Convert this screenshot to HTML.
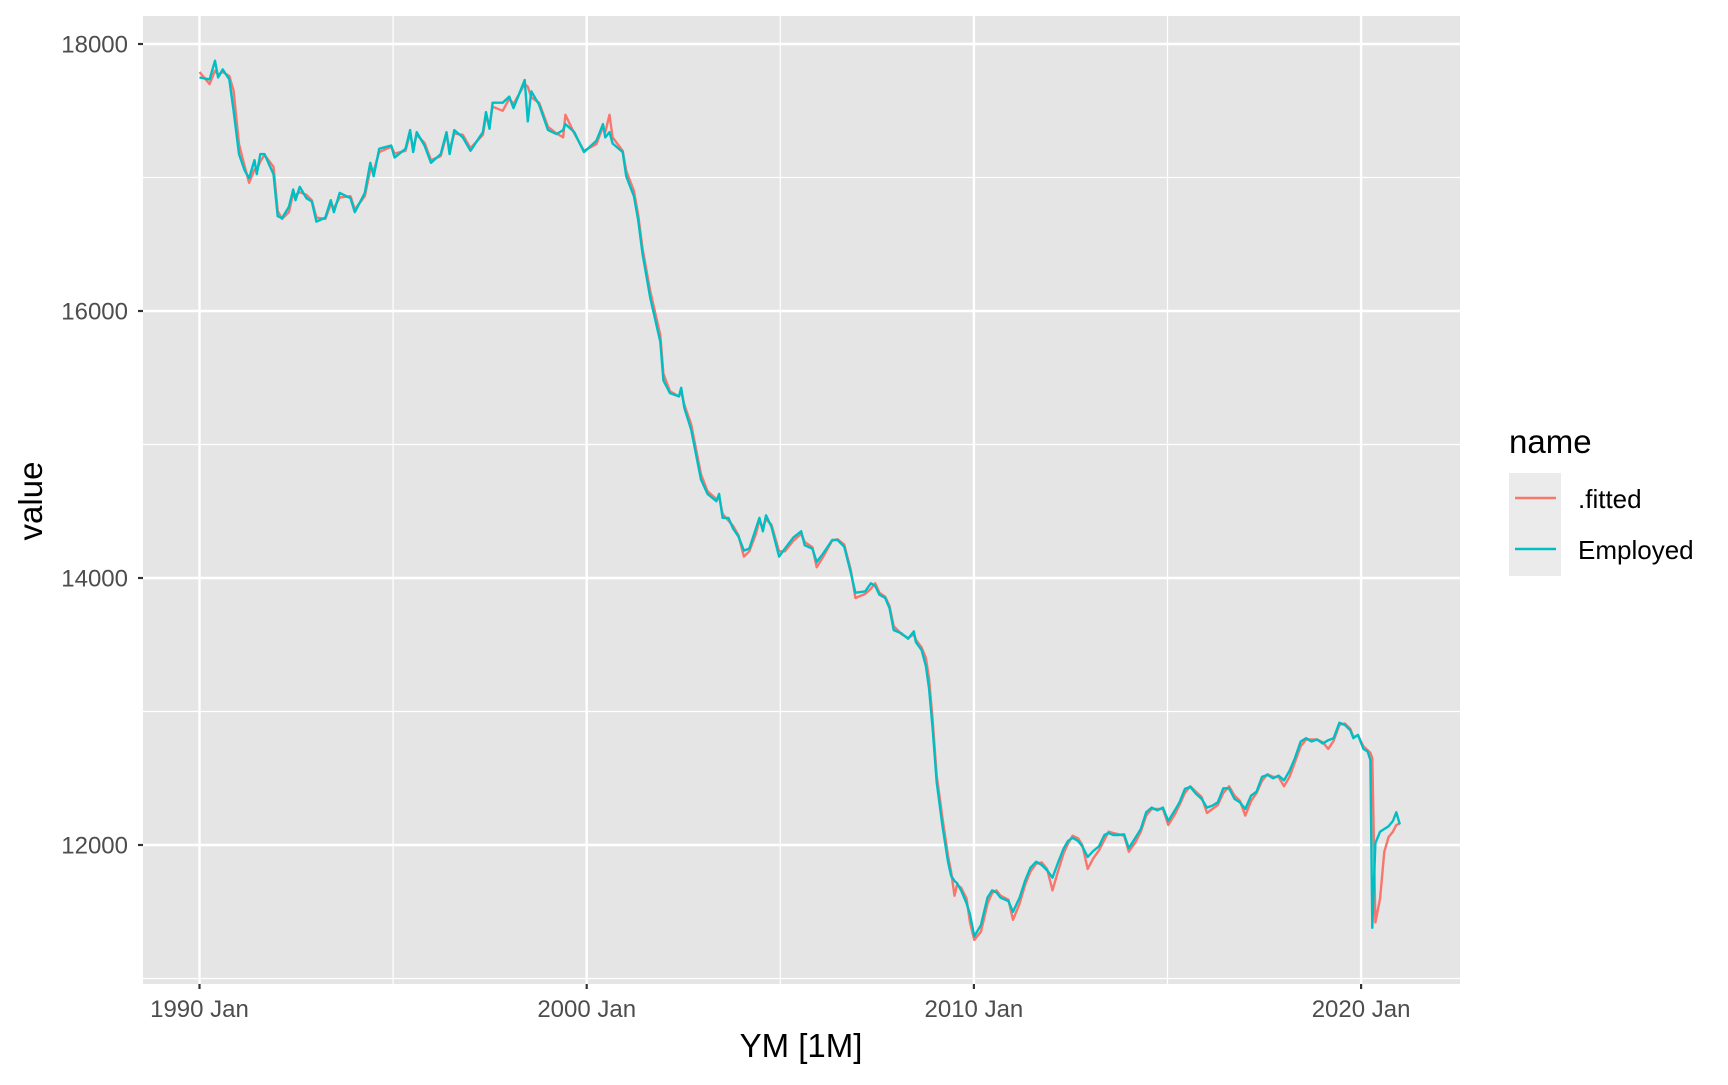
<!DOCTYPE html>
<html><head><meta charset="utf-8"><style>
html,body{margin:0;padding:0;background:#fff;}
svg text{font-family:"Liberation Sans",Arial,sans-serif;}
</style></head><body>
<svg id="chart" width="1728" height="1080" viewBox="0 0 1728 1080" xmlns="http://www.w3.org/2000/svg">
<rect x="0" y="0" width="1728" height="1080" fill="#fff"/>
<rect x="143" y="16" width="1317" height="968" fill="#E5E5E5"/>
<g id="grid"></g>
<g id="series"></g>
<g id="axes"></g>
<text x="0" y="0" transform="translate(42,501) rotate(-90)" text-anchor="middle" font-size="33" fill="#000">value</text>
<text x="801" y="1057" text-anchor="middle" font-size="33" fill="#000">YM [1M]</text>
<g>
<text x="1509" y="453" font-size="33" fill="#000">name</text>
<rect x="1509" y="473" width="52" height="103" fill="#EBEBEB"/>
<g>
<line x1="1515" y1="498" x2="1556" y2="498" stroke="#F8766D" stroke-width="2.4"/>
<text x="1578" y="508" font-size="26" fill="#000">.fitted</text></g>
<g>
<line x1="1515" y1="549" x2="1556" y2="549" stroke="#00BFC4" stroke-width="2.4"/>
<text x="1578" y="559" font-size="26" fill="#000">Employed</text></g>
</g>
</svg>
<script>
const dates=[1990.0,1990.26,1990.40,1990.48,1990.60,1990.77,1990.88,1991.02,1991.17,1991.28,1991.42,1991.48,1991.57,1991.68,1991.91,1992.02,1992.13,1992.31,1992.42,1992.48,1992.59,1992.76,1992.90,1993.02,1993.25,1993.39,1993.47,1993.62,1993.90,1994.01,1994.27,1994.41,1994.50,1994.64,1994.95,1995.04,1995.32,1995.44,1995.52,1995.61,1995.81,1995.98,1996.23,1996.38,1996.46,1996.58,1996.80,1997.00,1997.32,1997.40,1997.49,1997.57,1997.83,1998.00,1998.11,1998.40,1998.48,1998.57,1998.77,1999.00,1999.22,1999.39,1999.45,1999.68,1999.93,2000.25,2000.42,2000.48,2000.59,2000.67,2000.93,2001.02,2001.22,2001.33,2001.44,2001.64,2001.90,2001.98,2002.15,2002.38,2002.44,2002.52,2002.70,2002.95,2003.12,2003.35,2003.42,2003.51,2003.66,2003.78,2003.92,2004.06,2004.20,2004.37,2004.46,2004.55,2004.63,2004.77,2004.97,2005.12,2005.34,2005.54,2005.63,2005.83,2005.94,2006.11,2006.34,2006.48,2006.65,2006.82,2006.94,2007.19,2007.34,2007.45,2007.56,2007.71,2007.82,2007.93,2008.13,2008.30,2008.45,2008.50,2008.65,2008.76,2008.84,2008.93,2009.04,2009.19,2009.33,2009.41,2009.50,2009.56,2009.67,2009.81,2009.90,2010.01,2010.18,2010.35,2010.47,2010.58,2010.69,2010.89,2011.01,2011.18,2011.32,2011.46,2011.61,2011.75,2011.89,2012.03,2012.17,2012.32,2012.43,2012.55,2012.69,2012.80,2012.94,2013.08,2013.23,2013.37,2013.48,2013.60,2013.74,2013.88,2014.00,2014.17,2014.31,2014.45,2014.59,2014.74,2014.88,2015.02,2015.19,2015.31,2015.45,2015.59,2015.73,2015.88,2016.02,2016.16,2016.30,2016.44,2016.59,2016.73,2016.87,2017.01,2017.16,2017.30,2017.44,2017.58,2017.73,2017.87,2018.01,2018.15,2018.29,2018.44,2018.58,2018.72,2018.86,2019.01,2019.15,2019.29,2019.44,2019.58,2019.72,2019.80,2019.92,2020.06,2020.17,2020.24,2020.29,2020.37,2020.49,2020.60,2020.71,2020.82,2020.91,2021.00];
const employed=[17750,17735,17875,17750,17810,17735,17500,17175,17050,16995,17130,17025,17175,17175,17025,16710,16695,16780,16910,16830,16930,16845,16820,16670,16700,16830,16740,16885,16845,16740,16885,17110,17010,17215,17240,17150,17215,17355,17190,17340,17240,17110,17175,17340,17175,17355,17300,17200,17340,17490,17365,17560,17560,17605,17520,17730,17420,17645,17545,17355,17325,17355,17400,17340,17190,17275,17400,17300,17340,17255,17190,17010,16860,16680,16430,16100,15770,15480,15385,15360,15425,15275,15110,14740,14630,14575,14630,14450,14450,14370,14310,14205,14220,14370,14450,14350,14470,14385,14160,14220,14305,14350,14245,14220,14120,14185,14285,14285,14235,14040,13890,13900,13960,13940,13875,13850,13775,13610,13585,13545,13600,13520,13460,13340,13175,12885,12470,12140,11875,11770,11730,11715,11660,11565,11480,11315,11400,11605,11660,11645,11605,11580,11500,11605,11730,11830,11875,11850,11810,11755,11865,11975,12030,12055,12030,11990,11910,11955,11990,12075,12090,12075,12075,12080,11975,12055,12120,12245,12280,12260,12280,12180,12260,12320,12420,12435,12385,12345,12280,12295,12320,12425,12425,12345,12320,12270,12370,12400,12510,12525,12500,12520,12485,12555,12650,12775,12800,12775,12790,12760,12785,12800,12915,12900,12860,12800,12825,12720,12700,12635,11380,12015,12100,12120,12140,12180,12245,12155];
const fitted=[17790,17700,17800,17770,17790,17760,17650,17250,17080,16960,17060,17060,17120,17170,17080,16750,16690,16740,16880,16870,16890,16870,16830,16700,16690,16800,16770,16850,16860,16760,16860,17060,17050,17190,17230,17180,17200,17330,17220,17320,17260,17130,17160,17320,17210,17330,17320,17220,17320,17460,17390,17530,17500,17590,17550,17700,17680,17600,17560,17380,17330,17300,17470,17330,17200,17250,17380,17340,17470,17300,17200,17050,16900,16720,16470,16150,15820,15530,15400,15360,15400,15300,15150,14780,14650,14590,14610,14480,14430,14390,14320,14160,14200,14330,14430,14380,14440,14400,14200,14200,14280,14330,14270,14230,14080,14160,14280,14290,14250,14060,13850,13880,13920,13960,13890,13860,13790,13640,13580,13550,13580,13540,13480,13400,13250,12950,12520,12200,11920,11800,11620,11700,11680,11600,11420,11290,11350,11560,11640,11660,11620,11590,11440,11560,11700,11800,11860,11870,11820,11660,11800,11940,12010,12070,12050,12000,11820,11900,11960,12040,12100,12090,12080,12070,11950,12020,12100,12220,12270,12270,12270,12150,12230,12300,12390,12440,12400,12360,12240,12270,12300,12390,12440,12370,12330,12220,12330,12390,12480,12530,12510,12510,12440,12510,12620,12740,12790,12790,12790,12770,12720,12780,12900,12910,12870,12810,12820,12740,12710,12690,12650,11420,11600,11950,12060,12100,12150,12160];
const yTicks=[12000,14000,16000,18000];
const yMinor=[11000,13000,15000,17000];
const xTicks=[1990,2000,2010,2020];
const xTickLabels=["1990 Jan","2000 Jan","2010 Jan","2020 Jan"];
const xMinor=[1995,2005,2015];

const NS="http://www.w3.org/2000/svg";
const PL=143,PR=1460,PT=16,PB=984;
function xs(v){return 199.5+(v-1990)*38.72;}
function ys(v){return 44+(18000-v)*0.1335;}
function mk(t,a,p){const e=document.createElementNS(NS,t);for(const k in a)e.setAttribute(k,a[k]);p.appendChild(e);return e;}
const grid=document.getElementById('grid'),axes=document.getElementById('axes'),ser=document.getElementById('series');
yMinor.forEach(v=>{const l=mk('line',{x1:PL,x2:PR,y1:ys(v),y2:ys(v),stroke:'#fff','stroke-width':1.2},grid);

});
xMinor.forEach(v=>{const l=mk('line',{x1:xs(v),x2:xs(v),y1:PT,y2:PB,stroke:'#fff','stroke-width':1.2},grid);

});
yTicks.forEach(v=>{const y=ys(v);
const l=mk('line',{x1:PL,x2:PR,y1:y,y2:y,stroke:'#fff','stroke-width':2.4},grid);


const t=mk('line',{x1:PL-5,x2:PL,y1:y,y2:y,stroke:'#333','stroke-width':2.2},axes);


const tx=mk('text',{x:PL-15,y:y+8.5,'text-anchor':'end','font-size':24,fill:'#4D4D4D'},axes);
tx.textContent=v;

});
xTicks.forEach((v,i)=>{const x=xs(v);
const l=mk('line',{x1:x,x2:x,y1:PT,y2:PB,stroke:'#fff','stroke-width':2.4},grid);


const t=mk('line',{x1:x,x2:x,y1:PB,y2:PB+5,stroke:'#333','stroke-width':2.2},axes);


const tx=mk('text',{x:x,y:PB+33,'text-anchor':'middle','font-size':24,fill:'#4D4D4D'},axes);
tx.textContent=xTickLabels[i];

});
function path(vals,col,name){const d=vals.map((v,i)=>(i?'L':'M')+xs(dates[i]).toFixed(1)+','+ys(v).toFixed(1)).join('');
const p=mk('path',{d:d,fill:'none',stroke:col,'stroke-width':2.4,'stroke-linejoin':'round'},ser);

}
path(fitted,'#F8766D','fitted-line');
path(employed,'#00BFC4','employed-line');
</script>
</body></html>
